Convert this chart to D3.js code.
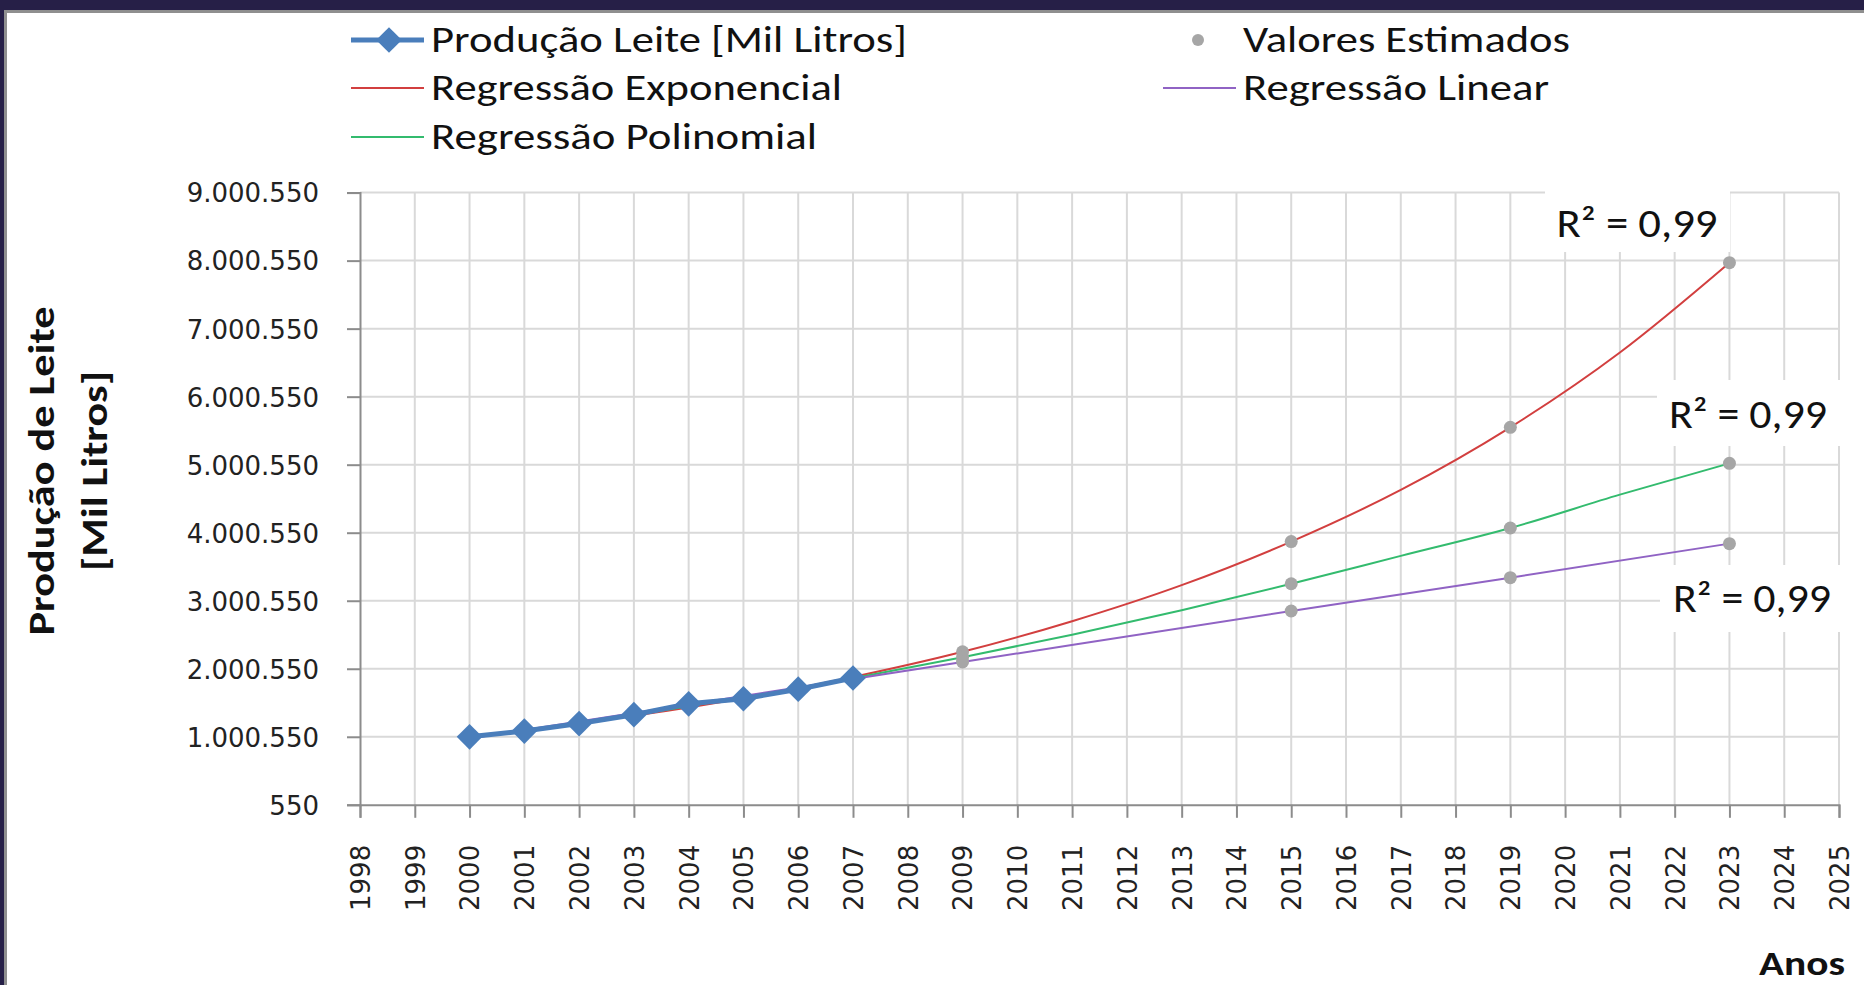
<!DOCTYPE html>
<html>
<head>
<meta charset="utf-8">
<script src="https://cdn.jsdelivr.net/npm/d3@7"></script>
<style>
    html, body { margin: 0; padding: 0; background: #fff; }
    svg { display: block; }
</style>
</head>
<body>
<svg id="chart" width="1864" height="985"></svg>
<script>
// observed production (2000-2007)
const years = [2000, 2001, 2002, 2003, 2004, 2005, 2006, 2007];
const production = [1000000, 1085000, 1195000, 1325000, 1485000, 1560000, 1700000, 1865000];

// trend curves
const expYears = [2000, 2002, 2004, 2007, 2009, 2011, 2013, 2015, 2017, 2019, 2021, 2023];
const expValues = [1000000, 1200000, 1430000, 1880000, 2250000, 2700000, 3230000, 3870000, 4630000, 5550000, 6650000, 7970000];
const polyYears = [2000, 2002, 2004, 2007, 2009, 2011, 2013, 2015, 2017, 2019, 2021, 2023];
const polyValues = [985000, 1200000, 1450000, 1860000, 2170000, 2500000, 2860000, 3250000, 3660000, 4070000, 4560000, 5020000];
const linYears = [2000, 2009, 2015, 2019, 2023];
const linValues = [975000, 2100000, 2850000, 3340000, 3840000];

// estimated values (grey dots)
const estYears = [2009, 2015, 2019, 2023];
const estExp = [2250000, 3870000, 5550000, 7970000];
const estPoly = [2170000, 3250000, 4070000, 5020000];
const estLin = [2100000, 2850000, 3340000, 3840000];

const yTicks = [550, 1000550, 2000550, 3000550, 4000550, 5000550, 6000550, 7000550, 8000550, 9000550];
const xTicks = d3.range(1998, 2026);
const r2Labels = ["R² = 0,99", "R² = 0,99", "R² = 0,99"];

const svg = d3.select("#chart");
const W = 1864, H = 985;
const plot = { left: 360, right: 1839, top: 192.6, bottom: 804.8 };

const x = d3.scaleLinear().domain([1998, 2025]).range([plot.left, plot.right]);
const y = d3.scaleLinear().domain([550, 9000550]).range([plot.bottom, plot.top]);

const fmt = v => d3.format(",")(v).replace(/,/g, ".");
const calibri = "Carlito, 'Liberation Sans Narrow', Lato, sans-serif";
const verdana = "'DejaVu Sans', Verdana, sans-serif";

// frame
svg.append("rect").attr("x", 0).attr("y", 0).attr("width", W).attr("height", 10).attr("fill", "#261f47");
svg.append("rect").attr("x", 0).attr("y", 10).attr("width", W).attr("height", 3).attr("fill", "#8f8f8f");
svg.append("rect").attr("x", 0).attr("y", 0).attr("width", 4).attr("height", H).attr("fill", "#261f47");
svg.append("rect").attr("x", 4).attr("y", 10).attr("width", 3).attr("height", H).attr("fill", "#8f8f8f");

// grid
const grid = svg.append("g");
grid.selectAll("line.h")
    .data(yTicks.slice(1))
    .enter().append("line")
    .attr("x1", plot.left).attr("x2", plot.right)
    .attr("y1", d => y(d)).attr("y2", d => y(d))
    .attr("stroke", "#d9d9d9").attr("stroke-width", 2);
grid.selectAll("line.v")
    .data(xTicks.slice(1))
    .enter().append("line")
    .attr("x1", d => x(d)).attr("x2", d => x(d))
    .attr("y1", plot.top).attr("y2", plot.bottom)
    .attr("stroke", "#d9d9d9").attr("stroke-width", 2);

// white boxes behind R² labels
const r2Boxes = [
    { x0: 1545, x1: 1730, y0: 178, y1: 252 },
    { x0: 1657, x1: 1864, y0: 380, y1: 446 },
    { x0: 1660, x1: 1864, y0: 565, y1: 632 }
];
svg.append("g").selectAll("rect")
    .data(r2Boxes)
    .enter().append("rect")
    .attr("x", d => d.x0).attr("y", d => d.y0)
    .attr("width", d => d.x1 - d.x0).attr("height", d => d.y1 - d.y0)
    .attr("fill", "#fff");

// axes
const yAxis = d3.axisLeft(y).tickValues(yTicks).tickSize(13).tickPadding(28).tickFormat(fmt);
const gy = svg.append("g").attr("transform", `translate(${plot.left},0)`).call(yAxis);
gy.select(".domain").attr("stroke", "#8c8c8c").attr("stroke-width", 2);
gy.selectAll(".tick line").attr("stroke", "#8c8c8c").attr("stroke-width", 2);
gy.selectAll(".tick text")
    .attr("font-family", verdana)
    .attr("font-size", 26)
    .attr("fill", "#222")
    .attr("dy", "0.36em");

const xAxis = d3.axisBottom(x).tickValues(xTicks).tickSize(13).tickFormat(d3.format("d"));
const gx = svg.append("g").attr("transform", `translate(0,${plot.bottom})`).call(xAxis);
gx.select(".domain").attr("stroke", "#8c8c8c").attr("stroke-width", 2);
gx.selectAll(".tick line").attr("stroke", "#8c8c8c").attr("stroke-width", 2);
gx.selectAll(".tick text")
    .attr("font-family", verdana)
    .attr("font-size", 26)
    .attr("fill", "#222")
    .attr("text-anchor", "end")
    .attr("transform", "rotate(-90)")
    .attr("x", -40)
    .attr("y", 0)
    .attr("dy", "0.36em");

// curves
const curve = (xs, vs) => d3.line()
    .x((d, i) => x(xs[i]))
    .y(d => y(d))
    .curve(d3.curveMonotoneX)(vs);

const series = svg.append("g").attr("fill", "none");
series.append("path").attr("d", curve(expYears, expValues)).attr("stroke", "#d23f3f").attr("stroke-width", 2);
series.append("path").attr("d", curve(polyYears, polyValues)).attr("stroke", "#33bb6e").attr("stroke-width", 2);
series.append("path").attr("d", curve(linYears, linValues)).attr("stroke", "#9063c4").attr("stroke-width", 2);

// estimated points
const estimates = [estExp, estPoly, estLin].flatMap(vs => vs.map((v, i) => ({ year: estYears[i], value: v })));
svg.append("g").selectAll("circle")
    .data(estimates)
    .enter().append("circle")
    .attr("cx", d => x(d.year)).attr("cy", d => y(d.value))
    .attr("r", 6.5)
    .attr("fill", "#a6a6a6");

// production line + diamonds
series.append("path")
    .attr("d", d3.line().x((d, i) => x(years[i])).y(d => y(d))(production))
    .attr("stroke", "#4a7ebb").attr("stroke-width", 5).attr("stroke-linejoin", "round");
const diamond = d3.symbol().type(d3.symbolSquare).size(330);
svg.append("g").selectAll("path")
    .data(production)
    .enter().append("path")
    .attr("d", diamond)
    .attr("transform", (d, i) => `translate(${x(years[i])},${y(d)}) rotate(45)`)
    .attr("fill", "#4a7ebb");

// R² labels
const r2Pos = [
    { cx: 1637, y: 237, w: 161 },
    { cx: 1748, y: 428, w: 158 },
    { cx: 1752, y: 612, w: 158 }
];
svg.append("g").selectAll("text")
    .data(r2Labels)
    .enter().append("text")
    .attr("x", (d, i) => r2Pos[i].cx - r2Pos[i].w / 2)
    .attr("y", (d, i) => r2Pos[i].y)
    .attr("textLength", (d, i) => r2Pos[i].w)
    .attr("lengthAdjust", "spacingAndGlyphs")
    .attr("font-family", calibri)
    .attr("font-size", 40)
    .attr("fill", "#111")
    .text(d => d);

// axis titles
const yTitle = svg.append("g")
    .attr("font-family", calibri)
    .attr("font-weight", "bold")
    .attr("font-size", 37)
    .attr("fill", "#111")
    .attr("text-anchor", "middle");
yTitle.append("text")
    .attr("transform", "translate(54,471) rotate(-90)")
    .attr("textLength", 329).attr("lengthAdjust", "spacingAndGlyphs")
    .text("Produção de Leite");
yTitle.append("text")
    .attr("transform", "translate(107,471) rotate(-90)")
    .attr("textLength", 200).attr("lengthAdjust", "spacingAndGlyphs")
    .text("[Mil Litros]");

svg.append("text")
    .attr("x", 1759).attr("y", 975)
    .attr("textLength", 86).attr("lengthAdjust", "spacingAndGlyphs")
    .attr("font-family", calibri)
    .attr("font-weight", "bold")
    .attr("font-size", 35)
    .attr("fill", "#111")
    .text("Anos");

// legend
const legendItems = [
    { name: "Produção Leite [Mil Litros]", kind: "main", x: 351, y: 40, w: 476 },
    { name: "Regressão Exponencial", kind: "line", colour: "#d23f3f", x: 351, y: 88, w: 411 },
    { name: "Regressão Polinomial", kind: "line", colour: "#33bb6e", x: 351, y: 137, w: 386 },
    { name: "Valores Estimados", kind: "dot", x: 1163, y: 40, w: 327 },
    { name: "Regressão Linear", kind: "line", colour: "#9063c4", x: 1163, y: 88, w: 306 }
];
const legend = svg.append("g");
const cells = legend.selectAll("g.cell")
    .data(legendItems)
    .enter().append("g")
    .attr("class", "cell")
    .attr("transform", d => `translate(${d.x},${d.y})`);
cells.filter(d => d.kind === "main").append("line")
    .attr("x1", 0).attr("x2", 73).attr("stroke", "#4a7ebb").attr("stroke-width", 5);
cells.filter(d => d.kind === "main").append("path")
    .attr("d", diamond).attr("transform", "translate(38,0) rotate(45)").attr("fill", "#4a7ebb");
cells.filter(d => d.kind === "line").append("line")
    .attr("x1", 0).attr("x2", 73).attr("stroke", d => d.colour).attr("stroke-width", 2);
cells.filter(d => d.kind === "dot").append("circle")
    .attr("cx", 35).attr("r", 6).attr("fill", "#a6a6a6");
cells.append("text")
    .attr("x", 80).attr("y", 12)
    .attr("textLength", d => d.w).attr("lengthAdjust", "spacingAndGlyphs")
    .attr("font-family", calibri)
    .attr("font-size", 37)
    .attr("fill", "#111")
    .text(d => d.name);
</script>
</body>
</html>
